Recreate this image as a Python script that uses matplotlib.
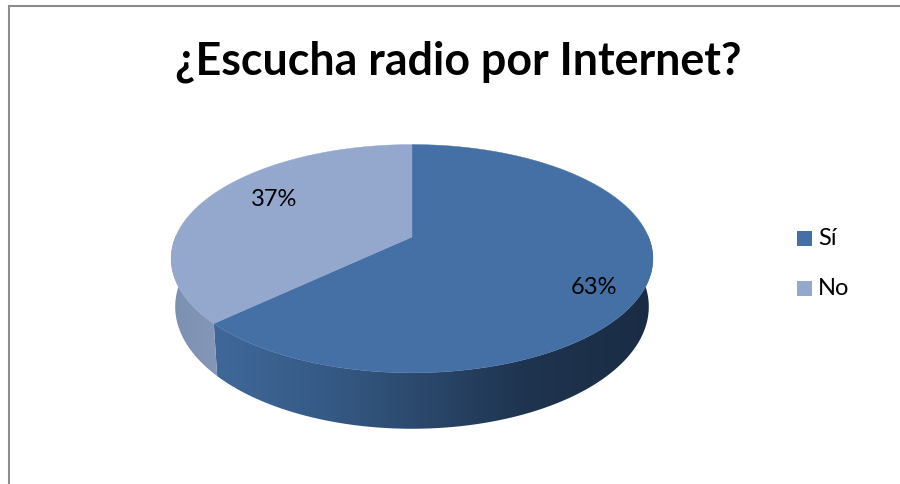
import matplotlib
matplotlib.use("Agg")
import matplotlib.pyplot as plt
import numpy as np
from matplotlib.colors import LinearSegmentedColormap
from matplotlib.patches import Polygon

# datos de la encuesta
categorias = ["Sí", "No"]
valores = [63, 37]
etiquetas = ["63%", "37%"]
colores = ["#4570A6", "#94A8CE"]

plt.rcParams['font.family'] = ['Lato', 'DejaVu Sans']

fig = plt.figure(figsize=(9, 4.84), dpi=100)
ax = fig.add_axes([0, 0, 1, 1])
ax.set_xlim(0, 900)
ax.set_ylim(484, 0)
ax.axis('off')

# marco del grafico (solo se ven los lados superior e izquierdo)
ax.plot([9, 9, 900], [484, 6, 6], color='#8C8C8C', lw=1.5, solid_joinstyle='miter')

# tarta en perspectiva: circulo unidad proyectado con una homografia
cx = 412
apex_y = 237
k = 0.19
a = 236.5
b = 110


def proyecta(theta):
    u = np.sin(theta)
    v = -np.cos(theta)
    d = 1 - k * v
    return cx + a * u / d, apex_y + b * v / d


# la base se ve algo mas estrecha y mas abierta que la cara superior
def base(x, y):
    return cx + (x - cx) * 0.983, 307 + (y - 259) * 1.07


angulos = np.cumsum([0] + valores) / sum(valores) * 2 * np.pi

# pared lateral visible de cada sector, con degradado horizontal
cmap_oscuro = LinearSegmentedColormap.from_list(
    'osc', [(0, '#3F6899'), (0.25, '#365A86'), (0.45, '#2C4A6E'), (0.7, '#1F3450'), (1, '#1A2C44')])
cmap_claro = LinearSegmentedColormap.from_list('cla', ['#7B90B2', '#8597B8'])

for i in range(2):
    t0, t1 = angulos[i], angulos[i + 1]
    # solo se ve la parte delantera de la pared
    t0v = max(t0, np.pi * 0.5 - 0.02)
    t1v = min(t1, np.pi * 1.5 + 0.02)
    t = np.linspace(t0v, t1v, 200)
    xs, ys = proyecta(t)
    xb, yb = base(xs, ys)
    pts = np.column_stack([np.r_[xs, xb[::-1]], np.r_[ys, yb[::-1]]])
    clip = Polygon(pts, closed=True, transform=ax.transData, fc='none', ec='none')
    ax.add_patch(clip)
    x0, x1 = pts[:, 0].min(), pts[:, 0].max()
    y0, y1 = pts[:, 1].min(), pts[:, 1].max()
    cmap = cmap_oscuro if i == 0 else cmap_claro
    grad = np.linspace(0, 1, 256).reshape(1, -1)
    im = ax.imshow(grad, extent=[x0, x1, y1, y0], cmap=cmap, vmin=0, vmax=1, aspect='auto', zorder=2)
    im.set_clip_path(clip)
ax.set_xlim(0, 900)
ax.set_ylim(484, 0)

# cara superior
for i in range(2):
    t = np.linspace(angulos[i], angulos[i + 1], 300)
    xs, ys = proyecta(t)
    ax.add_patch(Polygon(np.column_stack([np.r_[cx, xs], np.r_[apex_y, ys]]), closed=True,
                         fc=colores[i], ec=colores[i], lw=0.3, zorder=3))

# porcentajes
ax.text(594, 288, etiquetas[0], fontsize=17, ha='center', va='center', color='black', zorder=4)
ax.text(274, 200, etiquetas[1], fontsize=17, ha='center', va='center', color='black', zorder=4)

ax.text(458, 61.5, "¿Escucha radio por Internet?", fontsize=32.2, fontweight='bold', ha='center', va='center', color='black')

# leyenda
for cat, col, y in zip(categorias, colores, [238.5, 288.5]):
    ax.add_patch(Polygon([[797, y - 7.5], [812, y - 7.5], [812, y + 7.5], [797, y + 7.5]], closed=True, fc=col, ec='none'))
    ax.text(818, y, cat, fontsize=17, ha='left', va='center', color='black')

fig.savefig('out.png', dpi=100)
